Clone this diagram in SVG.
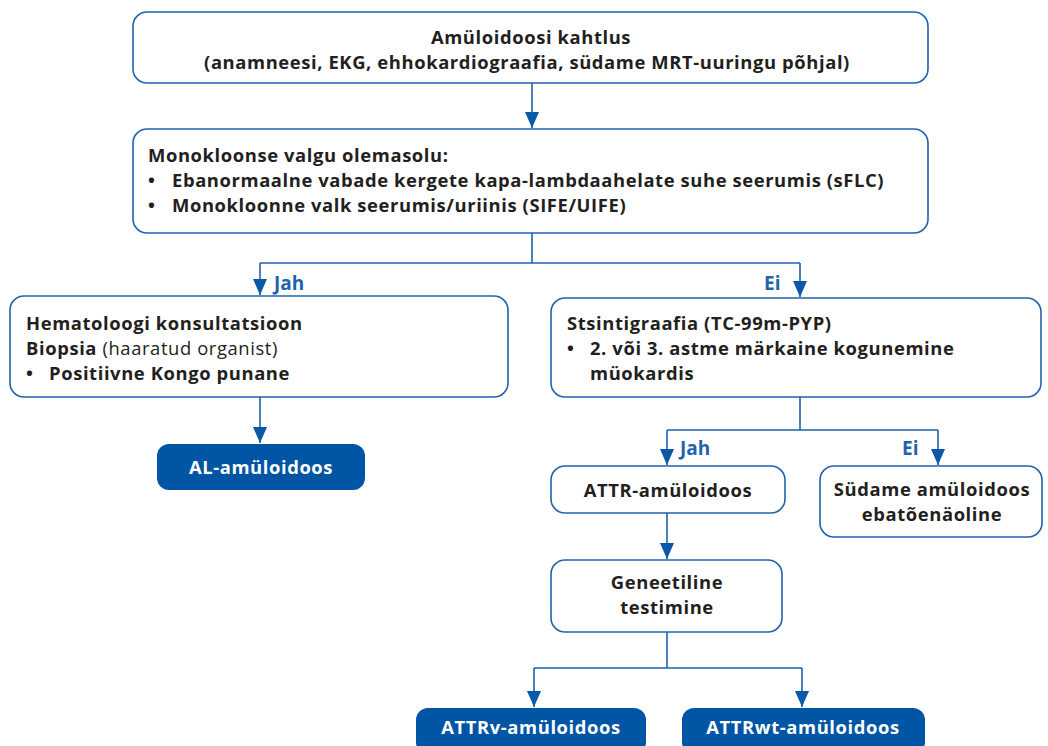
<svg xmlns="http://www.w3.org/2000/svg" width="1048" height="746" viewBox="0 0 1048 746">
<defs>
<marker id="arr" markerUnits="userSpaceOnUse" markerWidth="16" markerHeight="14" refX="16" refY="7" orient="auto" viewBox="0 0 16 14">
<path d="M0,0 L16,7 L0,14 Z" fill="#0a58a8"/>
</marker>
<style>
.box{fill:#fff;stroke:#1f63ad;stroke-width:1.6}
.fill{fill:#0055a5;stroke:none}
.t{font-family:"Open Sans","Noto Sans",sans-serif;font-size:18.4px;letter-spacing:0.6px;fill:#231f20}
.b{font-weight:bold}
.c{text-anchor:middle}
.w{fill:#fff;font-weight:bold}
.lbl{font-family:"Open Sans","Noto Sans",sans-serif;font-size:19px;font-weight:bold;fill:#1f63ad}
.con{fill:none;stroke:#1f63ad;stroke-width:1.6}
</style>
</defs>
<rect width="1048" height="746" fill="#fff"/>
<g id="connectors">
<path class="con" d="M532,83 V128" marker-end="url(#arr)"/>
<path class="con" d="M532,233 V263 M260,263 H800"/>
<path class="con" d="M260,263 V295" marker-end="url(#arr)"/>
<path class="con" d="M800,263 V297" marker-end="url(#arr)"/>
<path class="con" d="M260,397 V443" marker-end="url(#arr)"/>
<path class="con" d="M800,397 V430 M667,430 H938"/>
<path class="con" d="M667,430 V465" marker-end="url(#arr)"/>
<path class="con" d="M938,430 V465" marker-end="url(#arr)"/>
<path class="con" d="M667,513 V559" marker-end="url(#arr)"/>
<path class="con" d="M667,632 V668 M534,668 H802"/>
<path class="con" d="M534,668 V707" marker-end="url(#arr)"/>
<path class="con" d="M802,668 V707" marker-end="url(#arr)"/>
<text class="lbl" x="274" y="290">Jah</text>
<text class="lbl" x="764" y="290">Ei</text>
<text class="lbl" x="680" y="455">Jah</text>
<text class="lbl" x="902" y="455">Ei</text>
</g>
<g id="n1">
<rect class="box" x="133" y="12" width="795" height="71" rx="14"/>
<text class="t b c" x="531" y="44">Amüloidoosi kahtlus</text>
<text class="t b c" x="527" y="69">(anamneesi, EKG, ehhokardiograafia, südame MRT-uuringu põhjal)</text>
</g>
<g id="n2">
<rect class="box" x="133" y="129" width="795" height="104" rx="14"/>
<text class="t b" x="148" y="162">Monokloonse valgu olemasolu:</text>
<text class="t b" x="148" y="187">•</text>
<text class="t b" x="172" y="187">Ebanormaalne vabade kergete kapa-lambdaahelate suhe seerumis (sFLC)</text>
<text class="t b" x="148" y="212">•</text>
<text class="t b" x="172" y="212">Monokloonne valk seerumis/uriinis (SIFE/UIFE)</text>
</g>
<g id="n3">
<rect class="box" x="10" y="296" width="498" height="101" rx="14"/>
<text class="t b" x="26" y="330">Hematoloogi konsultatsioon</text>
<text class="t" x="26" y="355"><tspan class="b">Biopsia</tspan> (haaratud organist)</text>
<text class="t b" x="26" y="380">•</text>
<text class="t b" x="49" y="380">Positiivne Kongo punane</text>
</g>
<g id="n4">
<rect class="fill" x="157" y="444" width="208" height="46" rx="12"/>
<text class="t w c" x="261" y="474">AL-amüloidoos</text>
</g>
<g id="n5">
<rect class="box" x="551" y="298" width="490" height="99" rx="14"/>
<text class="t b" x="567" y="330">Stsintigraafia (TC-99m-PYP)</text>
<text class="t b" x="567" y="355">•</text>
<text class="t b" x="590" y="355">2. või 3. astme märkaine kogunemine</text>
<text class="t b" x="590" y="380">müokardis</text>
</g>
<g id="n6">
<rect class="box" x="551" y="466" width="234" height="47" rx="14"/>
<text class="t b c" x="668" y="497">ATTR-amüloidoos</text>
</g>
<g id="n7">
<rect class="box" x="820" y="466" width="222" height="71" rx="14"/>
<text class="t b c" x="932" y="496">Südame amüloidoos</text>
<text class="t b c" x="932" y="521">ebatõenäoline</text>
</g>
<g id="n8">
<rect class="box" x="551" y="560" width="231" height="72" rx="14"/>
<text class="t b c" x="667" y="589">Geneetiline</text>
<text class="t b c" x="667" y="614">testimine</text>
</g>
<g id="n9">
<rect class="fill" x="416" y="708" width="230" height="46" rx="12"/>
<text class="t w c" x="531" y="734">ATTRv-amüloidoos</text>
</g>
<g id="n10">
<rect class="fill" x="682" y="708" width="243" height="46" rx="12"/>
<text class="t w c" x="803" y="734">ATTRwt-amüloidoos</text>
</g>
</svg>
